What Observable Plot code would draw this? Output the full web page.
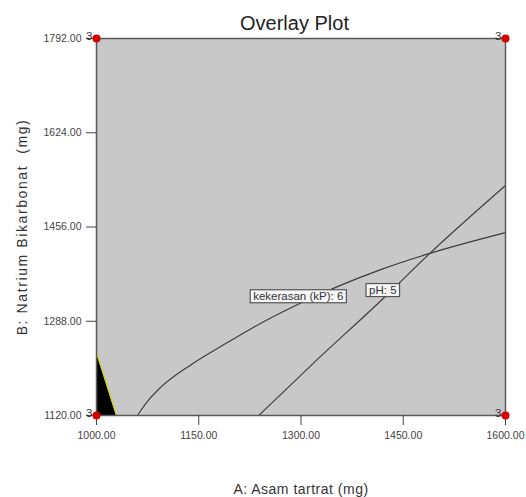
<!DOCTYPE html>
<html>
<head>
<meta charset="utf-8">
<script src="https://cdn.jsdelivr.net/npm/d3@7"></script>
<script src="https://cdn.jsdelivr.net/npm/@observablehq/plot@0.6"></script>
<style>
  body { margin: 0; background: #fff; font-family: "Liberation Sans", Arial, sans-serif; }
  #title { margin-left: 90px; width: 409px; text-align: center; font-size: 20px; line-height: 22px; padding-top: 12px; height: 22px; color: #222; }
  #chart svg { display: block; margin-top: -10px; overflow: visible; }
</style>
</head>
<body>
<div id="title">Overlay Plot</div>
<div id="chart"></div>
<script>
// Axis ranges and ticks
const xDomain = [1000, 1600];
const yDomain = [1120, 1792];
const xTicks = [1000, 1150, 1300, 1450, 1600];
const yTicks = [1120, 1288, 1456, 1624, 1792];

// Contour: kekerasan (kP) = 6
const kekX = [1060, 1076, 1094, 1142, 1192, 1230, 1299, 1417, 1489, 1600];
const kekY = [1120, 1147, 1170, 1213, 1250, 1277, 1320, 1380, 1409, 1446];

// Contour: pH = 5
const phX = [1238, 1318, 1421, 1489, 1600];
const phY = [1120, 1213, 1329, 1409, 1530];

// Contour labels
const labelText = ["kekerasan (kP): 6", "pH: 5"];
const labelX = [1296, 1420];
const labelY = [1332, 1343];

// Black (non-feasible) triangle region at lower left
const triX = [1000, 1029.3];
const triY = [1232, 1120];

// Design points at corners (replicates)
const ptX = [1000, 1600, 1000, 1600];
const ptY = [1792, 1792, 1120, 1120];
const ptN = ["3", "3", "3", "3"];

const kek = kekX.map((x, i) => ({x, y: kekY[i]}));
const ph = phX.map((x, i) => ({x, y: phY[i]}));
const labels = labelText.map((t, i) => ({t, x: labelX[i], y: labelY[i]}));
const tri = triX.map((x, i) => ({x, y: triY[i]}));
const pts = ptX.map((x, i) => ({x, y: ptY[i], n: ptN[i]}));

const chart = Plot.plot({
  width: 526,
  height: 473,
  marginLeft: 96,
  marginRight: 21,
  marginTop: 14,
  marginBottom: 82,
  style: {fontFamily: "'Liberation Sans', Arial, sans-serif", background: "transparent"},
  x: {domain: xDomain},
  y: {domain: yDomain},
  marks: [
    Plot.frame({fill: "#c8c8c8", stroke: "none"}),
    Plot.areaY(tri, {x: "x", y: "y", y1: yDomain[0], fill: "#000"}),
    Plot.line(tri, {x: "x", y: "y", stroke: "#d6d600", strokeWidth: 1.2}),
    Plot.line(kek, {x: "x", y: "y", curve: "monotone-x", stroke: "#3a3a3a", strokeWidth: 1.1}),
    Plot.line(ph, {x: "x", y: "y", curve: "monotone-x", stroke: "#3a3a3a", strokeWidth: 1.1}),
    Plot.frame({stroke: "#5a5a5a", strokeWidth: 1.5}),
    Plot.axisX({ticks: xTicks, tickFormat: d3.format(".2f"), tickSize: 10, tickPadding: 6, fontSize: 10.5, color: "#444",
      label: "A: Asam tartrat (mg)", labelAnchor: "center", labelArrow: "none", labelOffset: 78}),
    Plot.axisY({ticks: yTicks, tickFormat: d3.format(".2f"), tickSize: 10, tickPadding: 5, fontSize: 10.5, color: "#444",
      label: "B: Natrium Bikarbonat  (mg)", labelAnchor: "center", labelArrow: "none", labelOffset: 79}),
    Plot.text(labels, {x: "x", y: "y", text: "t", fontSize: 11.5, fill: "#333"}),
    Plot.dot(pts, {x: "x", y: "y", r: 4, fill: "#d40000", stroke: "none", clip: false}),
    Plot.text(pts, {x: "x", y: "y", text: "n", textAnchor: "end", dx: -4, dy: -2, fontSize: 11.5, fill: "#333"})
  ]
});

document.getElementById("chart").appendChild(chart);

// style axis labels
chart.querySelectorAll('g[aria-label="x-axis label"] text, g[aria-label="y-axis label"] text').forEach(t => {
  t.setAttribute("font-size", "14");
  t.style.fontSize = "14px";
  t.style.fill = "#333";
});
chart.querySelectorAll('g[aria-label="x-axis label"] text').forEach(t => t.style.letterSpacing = "0.5px");
chart.querySelectorAll('g[aria-label="y-axis label"] text').forEach(t => t.style.letterSpacing = "1.6px");

// boxes behind contour labels
Array.from(chart.querySelectorAll("text"))
  .filter(t => labelText.includes(t.textContent))
  .forEach(t => {
    const b = t.getBBox();
    const r = document.createElementNS("http://www.w3.org/2000/svg", "rect");
    r.setAttribute("x", b.x - 3);
    r.setAttribute("y", b.y - 0.5);
    r.setAttribute("width", b.width + 6);
    r.setAttribute("height", b.height + 1);
    r.setAttribute("fill", "#f6f6f6");
    r.setAttribute("stroke", "#555");
    r.setAttribute("stroke-width", "1.2");
    const tr = t.getAttribute("transform");
    if (tr) r.setAttribute("transform", tr);
    t.parentNode.insertBefore(r, t);
  });
</script>
</body>
</html>
